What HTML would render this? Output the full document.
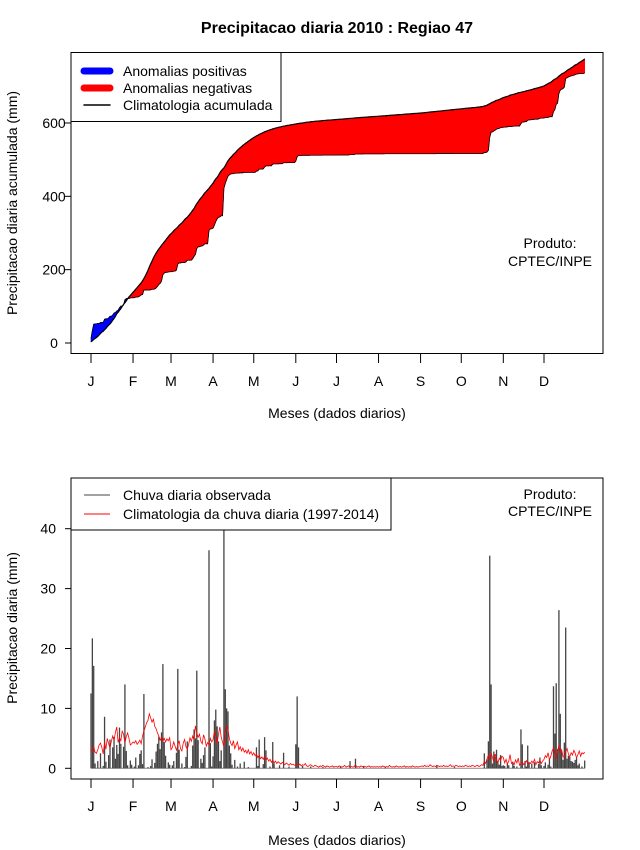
<!DOCTYPE html>
<html><head><meta charset="utf-8"><title>Precipitacao diaria 2010 : Regiao 47</title>
<style>
html,body{margin:0;padding:0;background:#fff;}
svg{display:block;font-family:"Liberation Sans",Arial,sans-serif;}
</style></head>
<body>
<svg id="chart" width="640" height="850" viewBox="0 0 640 850" xmlns="http://www.w3.org/2000/svg">
<text x="337" y="33" text-anchor="middle" font-size="16" font-weight="bold">Precipitacao diaria 2010 : Regiao 47</text>
<g id="topPanel"></g>
<g id="botPanel"></g>
</svg>
<script>
const monthLabels = ["J","F","M","A","M","J","J","A","S","O","N","D"];
const monthStartDays = [1,32,60,91,121,152,182,213,244,274,305,335];
const topYTicks = [0,200,400,600];
const botYTicks = [0,10,20,30,40];

const climJan=[3.2,2.8,3.6,2.7,2.5,3.1,3.9,4.2,3.5,2.4,4.4,3.2,5.0,4.1,3.4,4.5,5.4,4.7,6.0,6.9,4.3,5.1,4.6,6.2,5.7,4.2,5.3,5.9,5.0,3.9,4.1];
const climFeb=[4.4,4.2,4.6,4.0,4.3,4.7,4.1,5.4,6.2,6.9,7.6,8.0,9.1,8.4,7.7,8.2,7.0,6.6,5.9,5.4,4.7,5.2,4.5,5.0,4.4,4.9,4.6,5.1];
const climMar=[3.1,3.5,4.4,3.7,3.0,3.9,4.6,3.3,2.9,4.2,4.8,3.6,3.2,4.0,5.1,4.5,5.4,4.7,7.1,5.9,5.2,5.7,4.5,4.1,5.6,4.9,3.7,4.3,3.9,5.0,4.4];
const climApr=[4.8,6.2,5.4,4.1,5.7,6.9,5.2,4.4,3.6,5.9,7.1,6.4,5.0,4.2,3.8,4.6,3.3,3.9,4.4,3.1,3.6,2.9,3.4,2.7,3.0,2.5,3.1,2.4,2.8,2.2];
const climMay=[2.6,2.1,2.4,1.8,2.2,1.6,1.9,1.5,2.0,1.3,1.7,1.2,1.5,1.0,1.4,0.9,1.2,0.8,1.1,0.9,0.7,1.0,0.8,0.6,0.9,0.7,0.5,0.8,0.6,0.7,0.5];
const climJun=[0.6,0.8,0.5,0.7,0.4,0.6,0.5,0.8,0.4,0.3,0.5,0.6,0.4,0.3,0.5,0.4,0.3,0.2,0.4,0.3,0.5,0.3,0.2,0.4,0.3,0.2,0.3,0.4,0.2,0.3];
const climJul=[0.3,0.2,0.4,0.3,0.2,0.3,0.5,0.2,0.3,0.4,0.2,0.3,0.2,0.3,0.6,0.2,0.3,0.2,0.4,0.3,0.2,0.3,0.2,0.3,0.4,0.2,0.3,0.2,0.3,0.2,0.3];
const climAug=[0.2,0.3,0.2,0.4,0.3,0.2,0.3,0.2,0.5,0.3,0.2,0.3,0.2,0.4,0.3,0.2,0.3,0.2,0.3,0.4,0.2,0.3,0.2,0.3,0.2,0.4,0.3,0.2,0.3,0.2,0.3];
const climSep=[0.3,0.4,0.3,0.5,0.3,0.4,0.3,0.6,0.4,0.3,0.4,0.3,0.5,0.4,0.3,0.4,0.3,0.5,0.3,0.4,0.3,0.4,0.6,0.3,0.4,0.3,0.5,0.4,0.3,0.4];
const climOct=[0.3,0.4,0.3,0.5,0.4,0.3,0.4,0.3,0.5,0.4,0.3,0.4,0.5,0.3,0.4,0.6,0.5,1.2,0.8,1.6,2.2,1.4,2.6,1.8,1.1,2.4,1.5,0.9,1.7,1.3,2.0];
const climNov=[1.8,0.9,1.5,0.7,1.2,2.3,0.8,1.0,0.6,1.4,0.9,1.7,0.5,0.8,1.1,0.6,0.9,1.3,0.7,1.0,0.8,1.2,0.9,1.5,0.6,1.1,0.9,1.4,0.8,1.2];
const climDec=[1.5,2.1,1.8,2.6,1.4,2.0,2.9,3.4,2.2,1.6,2.8,3.9,2.5,3.1,2.0,1.8,2.7,3.3,2.4,1.9,2.6,2.2,3.0,2.5,1.7,2.3,2.9,2.0,2.6,2.4,2.7];

const obsJan=[12.5,21.7,17.1,0.8,0,1.2,0,2.5,0,0.4,8.6,1.1,0,2.2,4.8,0,3.5,5.2,1.6,3.9,2.4,6.8,4.1,0,3.6,14.0,2.9,0.5,0,1.3,0.6];
const obsFeb=[0,0.3,1.8,0,0.5,2.4,3.0,0.7,12.4,0,0,0.2,0,0.4,1.5,0,0.9,2.8,4.1,5.3,3.2,6.0,17.4,4.4,2.1,0,1.0,0.6];
const obsMar=[0,0.5,1.2,0,2.6,16.6,3.1,0,0.8,0,0.2,1.9,4.5,0,0,0.4,3.8,6.5,5.0,16.3,4.7,0,1.6,0.9,2.2,3.5,0,0,36.4,4.2,0.3];
const obsApr=[2.0,8.0,9.8,7.0,4.5,1.2,3.0,0,75.0,13.2,10.0,9.5,3.8,2.5,0.6,0,1.4,0,0.3,0,0.8,0,0,1.1,0,0,0.2,0,0,0];
const obsMay=[0,0,3.5,0.4,4.8,0,0,0.7,5.2,3.0,0,0,0.3,0,4.4,0.8,0,0,0,0.5,0,0,2.6,0,0,0,0.3,0,0,0,0];
const obsJun=[4.0,12.0,3.5,0,0,0.4,0,0,0,0,0,0.3,0,0,0,0,0,0,0,0,0.2,0,0,0,0,0,0,0,0,0];
const obsJul=[0,0,0,0.3,0,0,0,0,0,0,1.2,0,0,0,1.6,0,0,0,0,0,0.4,0,0,0,0,0,0,0,0,0,0];
const obsAug=[0,0,0,0,0,0.3,0,0,0,0,0,0,0,0,0,0,0,0,0,0,0,0,0,0,0,0,0,0,0,0,0];
const obsSep=[0,0,0,0,0,0,0,0,0,0,0,0,0.5,0,0,0,0,0,0,0,0,0,0,0,0,0.2,0,0,0,0];
const obsOct=[0,0,0,0,0,0,0,0,0,0,0,0,0,0,0,0,0,2.5,0,1.5,4.5,35.5,14.0,0.8,2.8,1.9,3.1,1.2,0.6,2.2,0.4];
const obsNov=[0.5,0.4,0,0.8,0.5,0,0,1.1,0.4,0,0.3,0,0,6.5,4.0,0,1.2,0.3,3.8,0.9,0,0.8,0,1.0,0,0,0.7,1.8,0.5,0];
const obsDec=[0.4,1.0,0,0.6,1.5,0.3,0,13.7,5.8,14.2,3.2,26.4,9.1,2.8,1.4,4.3,23.5,1.6,2.1,1.9,1.2,1.1,0.9,1.4,1.7,0.5,0.8,0,0.3,0,1.3];

const clim = [].concat(climJan,climFeb,climMar,climApr,climMay,climJun,climJul,climAug,climSep,climOct,climNov,climDec);
const obs = [].concat(obsJan,obsFeb,obsMar,obsApr,obsMay,obsJun,obsJul,obsAug,obsSep,obsOct,obsNov,obsDec);

const NS="http://www.w3.org/2000/svg";
function mk(parent,tag,attrs,text){const e=document.createElementNS(NS,tag);for(const k in attrs)e.setAttribute(k,attrs[k]);if(text!==undefined)e.textContent=text;parent.appendChild(e);return e;}

const BOX_L=71, BOX_R=603;
function xDay(d){return 91 + (d-1)*(544-91)/334;}
function yTop(v){return 343 - v*0.3667;}
function yBot(v){return 768.3 - v*5.99;}

function cumsum(a){const r=[];let s=0;for(const v of a){s+=v;r.push(s);}return r;}
const climCum=cumsum(clim), obsCum=cumsum(obs);

const topG=document.getElementById('topPanel');
const botG=document.getElementById('botPanel');

// ---------- TOP PANEL ----------
const areas=mk(topG,'g',{});


for(let i=0;i<climCum.length-1;i++){
  const d=i+1;
  const x0=xDay(d), x1=xDay(d+1);
  const pos=(obsCum[i]+obsCum[i+1])>(climCum[i]+climCum[i+1]);
  const p=mk(areas,'polygon',{points:`${x0},${yTop(climCum[i])} ${x1},${yTop(climCum[i+1])} ${x1},${yTop(obsCum[i+1])} ${x0},${yTop(obsCum[i])}`,fill:pos?'#0000ff':'#ff0000',stroke:pos?'#0000ff':'#ff0000','stroke-width':'0.6'});
  
  
}
let ptsC='',ptsO='';
for(let i=0;i<climCum.length;i++){ptsC+=`${xDay(i+1)},${yTop(climCum[i])} `;ptsO+=`${xDay(i+1)},${yTop(obsCum[i])} `;}
const lc=mk(topG,'polyline',{points:ptsC,fill:'none',stroke:'#000','stroke-width':'1.2'});


const lo=mk(topG,'polyline',{points:ptsO,fill:'none',stroke:'#000','stroke-width':'0.8'});



const tb=mk(topG,'rect',{x:BOX_L,y:52.5,width:BOX_R-BOX_L,height:301,fill:'none',stroke:'#000','stroke-width':'1'});



topYTicks.forEach(v=>{
  const y=yTop(v);
  const t=mk(topG,'line',{x1:65,x2:BOX_L,y1:y,y2:y,stroke:'#000'});
  
  
  const l=mk(topG,'text',{x:54,y:y+5,'text-anchor':'middle','font-size':'14'},String(v));
  
  
});
monthLabels.forEach((m,i)=>{
  const x=xDay(monthStartDays[i]);
  const t=mk(topG,'line',{x1:x,x2:x,y1:353.5,y2:363,stroke:'#000'});
  
  
  const l=mk(topG,'text',{x:x,y:386,'text-anchor':'middle','font-size':'14'},m);
  
  
});
const xt1=mk(topG,'text',{x:337,y:418,'text-anchor':'middle','font-size':'14'},'Meses (dados diarios)');


const yt1=mk(topG,'text',{x:0,y:0,'text-anchor':'middle','font-size':'14',transform:'translate(17,203) rotate(-90)'},'Precipitacao diaria acumulada (mm)');


const pr1=mk(topG,'text',{x:550,y:248,'text-anchor':'middle','font-size':'14'},'Produto:');


const pr2=mk(topG,'text',{x:550,y:266,'text-anchor':'middle','font-size':'14'},'CPTEC/INPE');



const lg=mk(topG,'g',{});


mk(lg,'rect',{x:71,y:52.5,width:210,height:69,fill:'#fff',stroke:'#000','stroke-width':'1'});
[['#0000ff',7,'Anomalias positivas',71],['#ff0000',7,'Anomalias negativas',88],['#000',1.5,'Climatologia acumulada',105]].forEach(e=>{
  const g=mk(lg,'g',{});
  
  
  mk(g,'line',{x1:84,x2:110,y1:e[3],y2:e[3],stroke:e[0],'stroke-width':e[1],'stroke-linecap':'round'});
  mk(g,'text',{x:123,y:e[3]+5,'font-size':'14'},e[2]);
});

// ---------- BOTTOM PANEL ----------
const base=mk(botG,'line',{x1:xDay(1),x2:xDay(365),y1:yBot(0),y2:yBot(0),stroke:'#888','stroke-width':'1'});


const bars=mk(botG,'g',{});


obs.forEach((v,i)=>{
  if(v<=0) return;
  const x=xDay(i+1);
  const b=mk(bars,'line',{x1:x,x2:x,y1:yBot(0),y2:Math.max(478,yBot(v)),stroke:'#444','stroke-width':'1.3'});
  
  
});
let ptsD='';
clim.forEach((v,i)=>{ptsD+=`${xDay(i+1)},${yBot(v)} `;});
const cl=mk(botG,'polyline',{points:ptsD,fill:'none',stroke:'#ff0000','stroke-width':'0.8'});



const bb=mk(botG,'rect',{x:BOX_L,y:478,width:BOX_R-BOX_L,height:301,fill:'none',stroke:'#000','stroke-width':'1'});


botYTicks.forEach(v=>{
  const y=yBot(v);
  const t=mk(botG,'line',{x1:65,x2:BOX_L,y1:y,y2:y,stroke:'#000'});
  
  
  const l=mk(botG,'text',{x:56,y:y+5,'text-anchor':'end','font-size':'14'},String(v));
  
  
});
monthLabels.forEach((m,i)=>{
  const x=xDay(monthStartDays[i]);
  const t=mk(botG,'line',{x1:x,x2:x,y1:779,y2:788,stroke:'#000'});
  
  
  const l=mk(botG,'text',{x:x,y:811,'text-anchor':'middle','font-size':'14'},m);
  
  
});
const xt2=mk(botG,'text',{x:337,y:845,'text-anchor':'middle','font-size':'14'},'Meses (dados diarios)');


const yt2=mk(botG,'text',{x:0,y:0,'text-anchor':'middle','font-size':'14',transform:'translate(17,628) rotate(-90)'},'Precipitacao diaria (mm)');


const pr3=mk(botG,'text',{x:550,y:499,'text-anchor':'middle','font-size':'14'},'Produto:');


const pr4=mk(botG,'text',{x:550,y:516,'text-anchor':'middle','font-size':'14'},'CPTEC/INPE');



const lg2=mk(botG,'g',{});


mk(lg2,'rect',{x:71,y:478,width:320,height:52,fill:'#fff',stroke:'#000','stroke-width':'1'});
[['#444','Chuva diaria observada',495],['#ff0000','Climatologia da chuva diaria (1997-2014)',514]].forEach(e=>{
  const g=mk(lg2,'g',{});
  
  
  mk(g,'line',{x1:84,x2:110,y1:e[2],y2:e[2],stroke:e[0],'stroke-width':'1'});
  mk(g,'text',{x:123,y:e[2]+5,'font-size':'14'},e[1]);
});
</script>
</body></html>
